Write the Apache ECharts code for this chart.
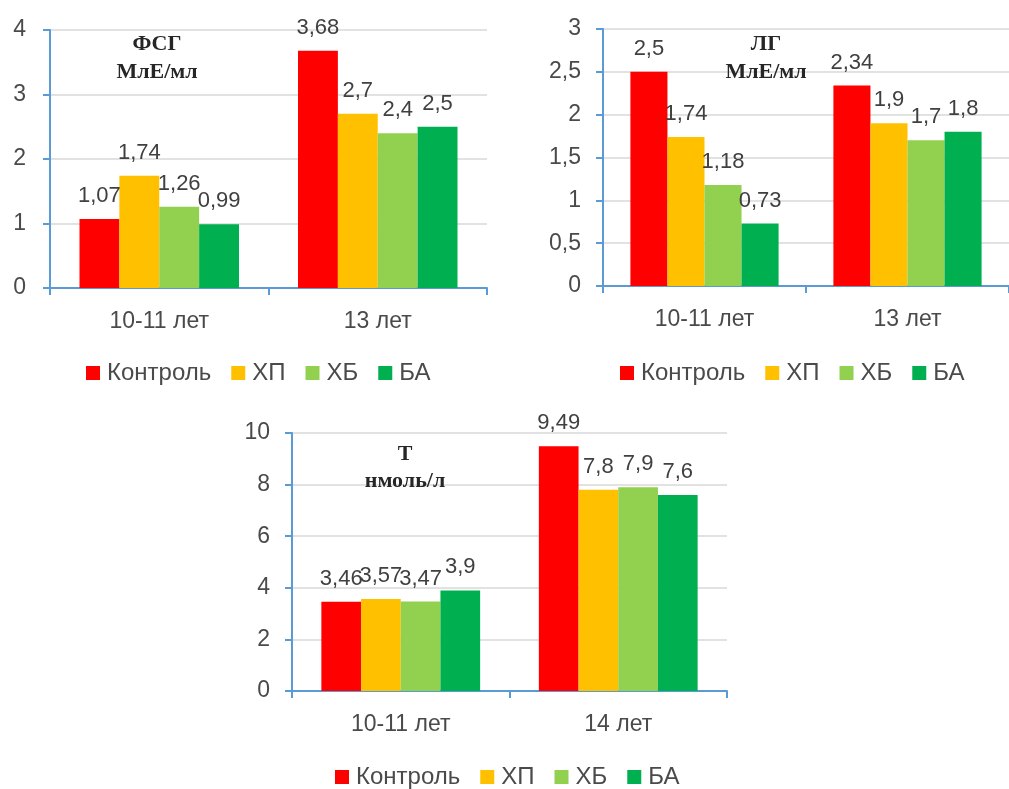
<!DOCTYPE html>
<html><head><meta charset="utf-8">
<script src="https://cdn.jsdelivr.net/npm/echarts@6/dist/echarts.min.js"></script>
<style>html,body{margin:0;padding:0;background:#fff}#c{width:1009px;height:789px}</style>
</head><body><div id="c"></div>
<script>
const seriesNames = ['Контроль', 'ХП', 'ХБ', 'БА'];
const colors = ['#FF0000', '#FFC000', '#92D050', '#00B050'];

const fsgCategories = ['10-11 лет', '13 лет'];
const fsgKontrol = [1.07, 3.68];
const fsgXP = [1.74, 2.7];
const fsgXB = [1.26, 2.4];
const fsgBA = [0.99, 2.5];

const lgCategories = ['10-11 лет', '13 лет'];
const lgKontrol = [2.5, 2.34];
const lgXP = [1.74, 1.9];
const lgXB = [1.18, 1.7];
const lgBA = [0.73, 1.8];

const tCategories = ['10-11 лет', '14 лет'];
const tKontrol = [3.46, 9.49];
const tXP = [3.57, 7.8];
const tXB = [3.47, 7.9];
const tBA = [3.9, 7.6];

const titles = [['ФСГ', 'МлЕ/мл'], ['ЛГ', 'МлЕ/мл'], ['Т', 'нмоль/л']];

const panels = [
  {cats: fsgCategories, data: [fsgKontrol, fsgXP, fsgXB, fsgBA], max: 4, interval: 1},
  {cats: lgCategories, data: [lgKontrol, lgXP, lgXB, lgBA], max: 3, interval: 0.5},
  {cats: tCategories, data: [tKontrol, tXP, tXB, tBA], max: 10, interval: 2}
];

const comma = v => String(v).replace('.', ',');
const font = '"Liberation Sans", Arial, sans-serif';
const serif = '"Liberation Serif", "Times New Roman", serif';
const textColor = '#4a4a4a';

const grids = [
  {left: 50, top: 30, width: 437, height: 258},
  {left: 603, top: 29, width: 418, height: 257},
  {left: 292, top: 433, width: 435, height: 258}
];
const yMargins = [24, 22, 22];

const xAxis = [], yAxis = [], series = [];
panels.forEach((p, i) => {
  xAxis.push({
    type: 'category', gridIndex: i, data: p.cats,
    axisLine: {lineStyle: {color: '#5B9BD5', width: 2}},
    axisTick: {show: true, length: 7, lineStyle: {color: '#5B9BD5', width: 2}},
    axisLabel: {color: textColor, fontFamily: font, fontSize: 23, margin: 22}
  });
  yAxis.push({
    type: 'value', gridIndex: i, min: 0, max: p.max, interval: p.interval,
    axisLine: {show: true, lineStyle: {color: '#5B9BD5', width: 2}},
    axisTick: {show: true, length: 7, lineStyle: {color: '#5B9BD5', width: 2}},
    splitLine: {lineStyle: {color: '#D9D9D9', width: 1.5}},
    axisLabel: {color: textColor, fontFamily: font, fontSize: 23, margin: yMargins[i], formatter: comma}
  });
  p.data.forEach((vals, k) => {
    series.push({
      type: 'bar', name: seriesNames[k], xAxisIndex: i, yAxisIndex: i,
      data: vals, barGap: '0%', barCategoryGap: '27%',
      itemStyle: {color: colors[k]},
      label: {show: true, position: 'top', distance: 12, color: '#404040',
        fontFamily: font, fontSize: 22, formatter: d => comma(d.value)}
    });
  });
});

const legendBase = {
  data: seriesNames, itemWidth: 14, itemHeight: 14, itemGap: 20, icon: 'rect',
  textStyle: {color: textColor, fontFamily: font, fontSize: 24, padding: [0, 0, 0, 2]}
};

const titleStyle = {fontFamily: serif, fontWeight: 'bold', fontSize: 22, lineHeight: 28, color: '#262626'};

const option = {
  animation: false,
  grid: grids,
  xAxis, yAxis, series,
  legend: [
    Object.assign({left: 81, top: 356}, legendBase),
    Object.assign({left: 615, top: 356}, legendBase),
    Object.assign({left: 330, top: 760}, legendBase)
  ],
  title: [
    {text: titles[0].join('\n'), left: 152, top: 25, textAlign: 'center', textStyle: titleStyle},
    {text: titles[1].join('\n'), left: 761, top: 25, textAlign: 'center', textStyle: titleStyle},
    {text: titles[2].join('\n'), left: 400, top: 436, textAlign: 'center',
      textStyle: Object.assign({}, titleStyle, {lineHeight: 27})}
  ]
};
const chart = echarts.init(document.getElementById('c'));
chart.setOption(option);
</script></body></html>
